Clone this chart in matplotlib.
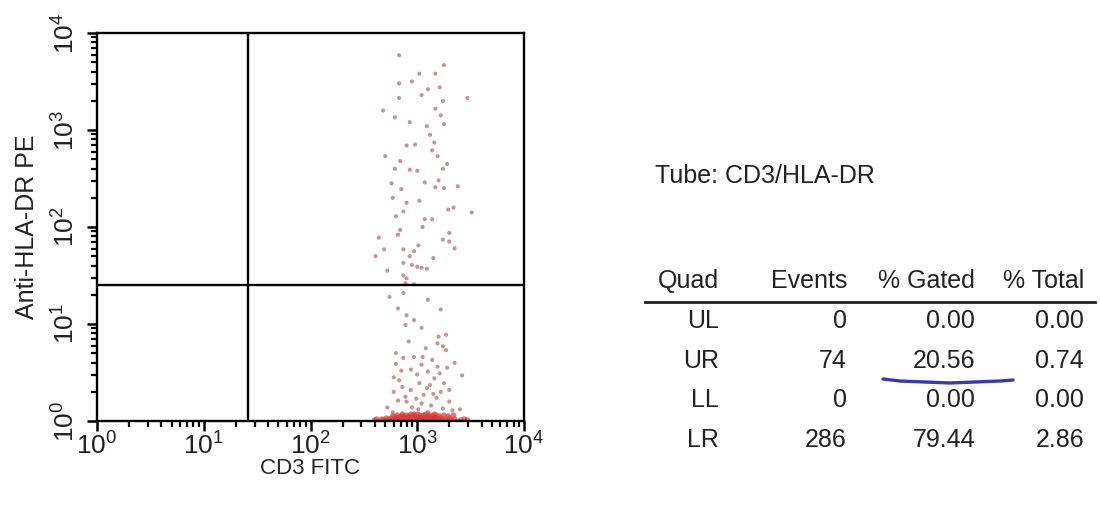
import matplotlib.pyplot as plt
from matplotlib.lines import Line2D
from matplotlib.ticker import LogLocator, FixedLocator, NullFormatter
import numpy as np

plt.rcParams['font.family'] = ['Liberation Sans', 'DejaVu Sans']
plt.rcParams['mathtext.default'] = 'regular'

# quadrant gates (CD3 FITC, Anti-HLA-DR PE)
gate_cd3 = 26
gate_hla = 25

# events, in decades (log10 of fluorescence)
ur_cd3_log = [2.83, 3.25, 3.02, 3.17, 2.83, 3.10, 3.21, 2.83, 3.04, 3.24, 3.47, 2.68, 3.17, 2.79,
              2.93, 3.09, 3.25, 3.16, 2.90, 2.70, 3.14, 3.19, 2.84, 2.79, 2.93, 3.00, 3.24, 3.07,
              3.20, 3.38, 3.17, 3.25, 2.85, 3.02, 3.29, 3.34, 2.87, 3.51, 2.80, 3.07, 3.14, 2.84,
              2.82, 3.30, 3.24, 3.30, 2.64, 2.69, 2.87, 2.97, 3.01, 2.61, 2.93, 2.87, 2.95, 3.00,
              3.04, 3.09, 2.87, 2.90, 2.89, 2.97, 2.77, 3.12, 2.95, 3.28, 3.05, 2.72, 3.15, 2.98,
              3.22, 2.90, 3.35, 2.76]
ur_hla_log = [3.77, 3.67, 3.58, 3.58, 3.48, 3.42, 3.44, 3.33, 3.36, 3.30, 3.33, 3.20, 3.22, 3.13,
              3.08, 3.04, 3.06, 2.87, 2.84, 2.73, 2.79, 2.73, 2.68, 2.60, 2.59, 2.58, 2.60, 2.46,
              2.48, 2.42, 2.41, 2.40, 2.39, 2.27, 2.18, 2.20, 2.16, 2.15, 2.11, 2.08, 2.08, 1.97,
              1.92, 1.94, 1.87, 1.85, 1.89, 1.77, 1.77, 1.75, 1.81, 1.70, 1.70, 1.63, 1.61, 1.59,
              1.58, 1.57, 1.50, 1.47, 1.42, 1.41, 2.30, 2.95, 3.50, 2.65, 2.00, 1.55, 1.68, 2.85,
              3.15, 2.25, 1.78, 2.45]

lr_cd3_log = [2.74, 2.87, 3.10, 3.22, 2.82, 2.90, 2.97, 3.04, 2.89, 3.20, 3.27, 3.19, 3.24, 3.27,
              2.80, 2.87, 2.97, 3.05, 3.14, 2.80, 3.04, 3.19, 2.94, 3.10, 3.21, 3.42, 2.83, 3.02,
              3.12, 3.25, 2.94, 3.09, 3.15, 3.30, 2.89, 2.99, 3.18, 2.72, 2.82, 2.90, 3.04, 3.24,
              3.33, 2.77, 2.97, 3.10, 3.40, 2.92, 3.08, 2.78, 3.00, 3.16, 3.28, 2.86, 3.06, 3.22,
              2.95, 3.13, 3.30, 2.85, 3.35, 2.78, 3.01]
lr_hla_log = [1.28, 1.32, 1.25, 1.15, 1.16, 1.09, 1.04, 0.96, 0.99, 0.87, 0.89, 0.80, 0.77, 0.73,
              0.70, 0.65, 0.66, 0.66, 0.63, 0.59, 0.58, 0.56, 0.53, 0.51, 0.49, 0.47, 0.42, 0.39,
              0.37, 0.39, 0.32, 0.34, 0.28, 0.32, 0.25, 0.23, 0.24, 0.14, 0.21, 0.20, 0.18, 0.13,
              0.11, 0.09, 0.08, 0.09, 0.12, 0.82, 0.75, 0.45, 0.48, 0.44, 0.55, 0.35, 0.27, 0.30,
              0.14, 0.16, 0.20, 0.52, 0.60, 0.30, 0.12]

# events piled on the low edge of the PE axis
band_cd3_log = [2.60, 2.62, 2.65, 2.67, 2.69, 2.71, 2.72, 2.74, 2.75, 2.76, 2.78, 2.79, 2.80, 2.81,
                2.82, 2.83, 2.84, 2.85, 2.86, 2.87, 2.88, 2.89, 2.90, 2.91, 2.92, 2.93, 2.94, 2.95,
                2.96, 2.97, 2.98, 2.99, 3.00, 3.01, 3.02, 3.03, 3.04, 3.05, 3.06, 3.07, 3.08, 3.09,
                3.10, 3.11, 3.12, 3.13, 3.14, 3.15, 3.16, 3.17, 3.18, 3.19, 3.20, 3.21, 3.22, 3.24,
                3.26, 3.28, 3.30, 3.32, 3.35, 3.38, 3.41, 3.44, 3.47,
                2.77, 2.81, 2.84, 2.86, 2.88, 2.90, 2.92, 2.94, 2.96, 2.98, 3.00, 3.02, 3.04, 3.06,
                3.08, 3.10, 3.12, 3.14, 3.16, 3.18, 3.21, 3.25, 3.29, 3.34]
band_hla_log = [0.01, 0.02, 0.00, 0.02, 0.01, 0.03, 0.00, 0.02, 0.01, 0.03, 0.00, 0.02, 0.04, 0.01,
                0.03, 0.00, 0.02, 0.01, 0.04, 0.02, 0.00, 0.03, 0.01, 0.02, 0.04, 0.00, 0.03, 0.01,
                0.02, 0.00, 0.04, 0.02, 0.01, 0.03, 0.00, 0.02, 0.04, 0.01, 0.03, 0.00, 0.02, 0.01,
                0.04, 0.02, 0.00, 0.03, 0.01, 0.02, 0.04, 0.00, 0.03, 0.01, 0.02, 0.00, 0.03, 0.01,
                0.02, 0.00, 0.03, 0.01, 0.02, 0.00, 0.01, 0.02, 0.01,
                0.05, 0.06, 0.05, 0.07, 0.05, 0.06, 0.05, 0.07, 0.06, 0.05, 0.07, 0.06, 0.05, 0.06,
                0.07, 0.05, 0.06, 0.05, 0.07, 0.06, 0.05, 0.06, 0.05, 0.06]

tube_label = "Tube: CD3/HLA-DR"
table_header = ["Quad", "Events", "% Gated", "% Total"]
quads = ["UL", "UR", "LL", "LR"]
events = [0, 74, 0, 286]
pct_gated = [0.00, 20.56, 0.00, 79.44]
pct_total = [0.00, 0.74, 0.00, 2.86]

W, H = 1100, 505
fig = plt.figure(figsize=(W / 100, H / 100), dpi=100)
ax = fig.add_axes([97 / W, 1 - 421 / H, 427 / W, 388 / H])

dot = dict(marker='o', edgecolors='none', clip_on=True, zorder=2)
ax.scatter(10 ** np.array(ur_cd3_log), 10 ** np.array(ur_hla_log), s=9, color='#b06868', alpha=0.7, **dot)
ax.scatter(10 ** np.array(lr_cd3_log), 10 ** np.array(lr_hla_log), s=9, color='#b06868', alpha=0.7, **dot)
ax.scatter(10 ** np.array(band_cd3_log), 10 ** np.array(band_hla_log), s=16, color='#d83a3a', alpha=0.7, **dot)

ax.axvline(gate_cd3, color='black', lw=1.7, zorder=3)
ax.axhline(gate_hla, color='black', lw=1.7, zorder=3)

ax.set_xscale('log')
ax.set_yscale('log')
ax.set_xlim(1, 1e4)
ax.set_ylim(1, 1e4)

decades = [1, 10, 100, 1000, 10000]
ax.xaxis.set_major_locator(FixedLocator(decades))
ax.yaxis.set_major_locator(FixedLocator(decades))
ax.xaxis.set_minor_locator(LogLocator(base=10, subs=np.arange(2, 10)))
ax.yaxis.set_minor_locator(LogLocator(base=10, subs=np.arange(2, 10)))
ax.xaxis.set_minor_formatter(NullFormatter())
ax.yaxis.set_minor_formatter(NullFormatter())
labels = [r'$10^{%d}$' % i for i in range(5)]
ax.set_xticklabels(labels)
ax.set_yticklabels(labels, rotation=90, va='center', ha='center')
ax.tick_params(axis='both', which='major', direction='out', length=7, width=1.8,
               labelsize=19, colors='black', labelcolor='#222222')
ax.tick_params(axis='both', which='minor', direction='out', length=4, width=1.6)
ax.tick_params(axis='y', which='major', pad=15)
ax.tick_params(axis='x', which='major', pad=1)

for sp in ax.spines.values():
    sp.set_linewidth(1.7)

ax.set_xlabel("CD3 FITC", fontsize=16, color='#222222')
ax.xaxis.set_label_coords(0.5, -0.095)
ax.set_ylabel("Anti-HLA-DR PE", fontsize=18, color='#222222')
ax.yaxis.set_label_coords(-0.137, 0.5)

# side panel: tube name and quadrant statistics
txt = dict(fontsize=18, color='#222222', va='center')
fig.text(655 / W, 1 - 176 / H, tube_label, ha='left', **txt)

col_right = [719, 847, 975, 1084]
head_y = 281
for x, h in zip(col_right, table_header):
    fig.text(x / W, 1 - head_y / H, h, ha='right', **txt)
fig.add_artist(Line2D([645 / W, 1095 / W], [1 - 302 / H, 1 - 302 / H], color='#222222', lw=2.0))

row_y = [321, 361, 400, 440]
for y, q, e, g, t in zip(row_y, quads, events, pct_gated, pct_total):
    fig.text(col_right[0] / W, 1 - y / H, q, ha='right', **txt)
    fig.text(col_right[1] / W, 1 - y / H, str(e), ha='right', **txt)
    fig.text(col_right[2] / W, 1 - y / H, '%.2f' % g, ha='right', **txt)
    fig.text(col_right[3] / W, 1 - y / H, '%.2f' % t, ha='right', **txt)

# hand-drawn pen mark under the UR % gated value
pen_x = np.array([883, 900, 950, 1000, 1013]) / W
pen_y = 1 - np.array([379, 381, 383, 381, 380]) / H
fig.add_artist(Line2D(pen_x, pen_y, color='#3a3aa6', lw=2.4, solid_capstyle='round'))

fig.savefig("out.png", dpi=100)
